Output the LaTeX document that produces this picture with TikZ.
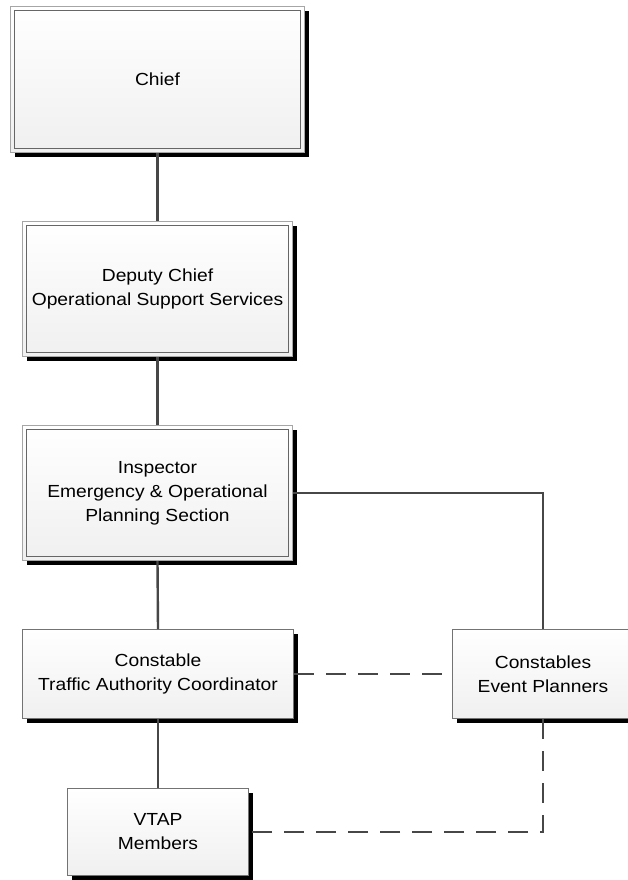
\documentclass[tikz,border=0pt]{standalone}
\usepackage{fontspec}
\setmainfont[FakeStretch=1.1]{Liberation Sans}
\begin{document}
\begin{tikzpicture}[x=1pt,y=-1pt,
  box/.style={rectangle, draw=black!55, line width=1pt, top color=white, bottom color=gray!12,
    align=center, font=\fontsize{17.5}{24}\selectfont, inner sep=0pt,
    preaction={fill=black, transform canvas={shift={(4.5pt,-4.5pt)}}}},
  dbox/.style={box, draw=black!35},
  innerline/.style={draw=black!60, line width=1pt},
  conn/.style={draw=black!72, line width=2.4pt},
  dconn/.style={conn, dash pattern=on 20pt off 12pt}]
\useasboundingbox[fill=white] (0,0) rectangle (628,880);
\clip (0,0) rectangle (628,880);
\node[dbox, minimum width=294pt, minimum height=146pt] (chief) at (157.5,79.5) {Chief};
\node[dbox, minimum width=270pt, minimum height=135pt] (deputy) at (157.5,289) {Deputy Chief\\Operational Support Services};
\node[dbox, minimum width=270pt, minimum height=135pt] (insp) at (157.5,493) {Inspector\\Emergency \& Operational\\Planning Section};
\node[box, minimum width=271pt, minimum height=89pt] (tac) at (158,674) {Constable\\Traffic Authority Coordinator};
\node[box, minimum width=182pt, minimum height=89pt] (ep) at (543,674) {Constables\\Event Planners};
\node[box, minimum width=181pt, minimum height=87pt] (vtap) at (158,832) {VTAP\\Members};
\foreach \n in {chief,deputy,insp}
  \draw[innerline] ([shift={(4.5,4.5)}]\n.north west) rectangle ([shift={(-4.5,-4.5)}]\n.south east);
\draw[conn] (chief.south) -- (deputy.north);
\draw[conn] (deputy.south) -- (insp.north);
\draw[conn] (insp.south) -- (tac.north);
\draw[conn] (tac.south) -- (vtap.north);
\draw[conn] (insp.east) -| (ep.north);
\draw[dconn] (tac.east) -- (ep.west);
\draw[dconn] (ep.south) |- (vtap.east);
\end{tikzpicture}
\end{document}
